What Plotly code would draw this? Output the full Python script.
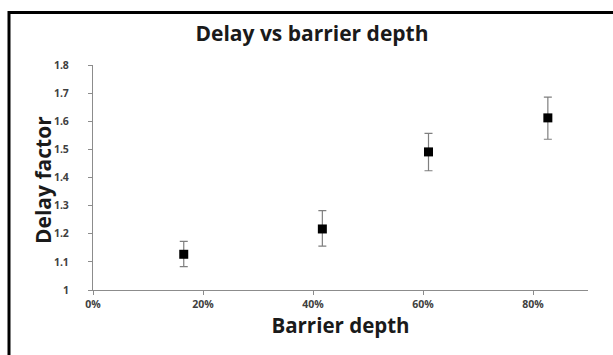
import plotly.graph_objects as go

depth = [0.165, 0.417, 0.610, 0.827]
delay = [1.127, 1.217, 1.491, 1.612]
err_plus = [0.046, 0.065, 0.066, 0.074]
err_minus = [0.044, 0.061, 0.067, 0.076]

FONT = "Open Sans"
L, R, T, B = 93, 25, 65, 65
W, H = 613, 355
pw, ph = W - L - R, H - T - B

def px(xp):
    return (xp - L) / pw

def py(yp):
    return 1 - (yp - T) / ph

fig = go.Figure()
fig.add_trace(go.Scatter(
    x=depth, y=delay, mode="markers",
    marker=dict(symbol="square", size=9, color="black"),
    error_y=dict(type="data", symmetric=False, array=err_plus, arrayminus=err_minus,
                 color="#7f7f7f", thickness=1.2, width=4),
    showlegend=False,
))

fig.update_layout(
    width=W, height=H,
    margin=dict(l=L, r=R, t=T, b=B),
    paper_bgcolor="white", plot_bgcolor="white",
    title=dict(text="<b>Delay vs barrier depth</b>", x=312 / W, xref="container", xanchor="center",
               y=1 - 34 / H, yref="container", yanchor="middle",
               font=dict(family=FONT, size=21, color="#1a1a1a")),
    xaxis=dict(range=[0, 0.9], tickvals=[0, 0.2, 0.4, 0.6, 0.8], tickformat=".0%",
               showgrid=False, zeroline=False, showline=True, linecolor="#8c8c8c", linewidth=1,
               ticks="outside", ticklen=4, tickcolor="#8c8c8c",
               tickfont=dict(family=FONT, size=10.5, color="#404040", weight="bold"),
               title=dict(text="<b>Barrier depth</b>", font=dict(family=FONT, size=20.5, color="#1a1a1a"),
                          standoff=6)),
    yaxis=dict(range=[1, 1.8], dtick=0.1, tick0=1,
               showgrid=False, zeroline=False, showline=True, linecolor="#8c8c8c", linewidth=1,
               ticks="outside", ticklen=4, tickcolor="#8c8c8c",
               tickfont=dict(family=FONT, size=10.5, color="#404040", weight="bold"),
               ticklabelstandoff=17),
    annotations=[dict(text="<b>Delay factor</b>", textangle=-90, showarrow=False,
                      xref="paper", yref="paper", x=px(43), y=py(180),
                      xanchor="center", yanchor="middle",
                      font=dict(family=FONT, size=21, color="#1a1a1a"))],
    shapes=[dict(type="rect", xref="paper", yref="paper",
                 x0=px(9), x1=px(640), y0=py(12.5), y1=py(400),
                 line=dict(color="black", width=3), fillcolor="rgba(0,0,0,0)")],
)

fig.write_html("out.html", config={"displayModeBar": False},
               post_script="document.body.style.margin='0';document.body.style.overflow='hidden';")
